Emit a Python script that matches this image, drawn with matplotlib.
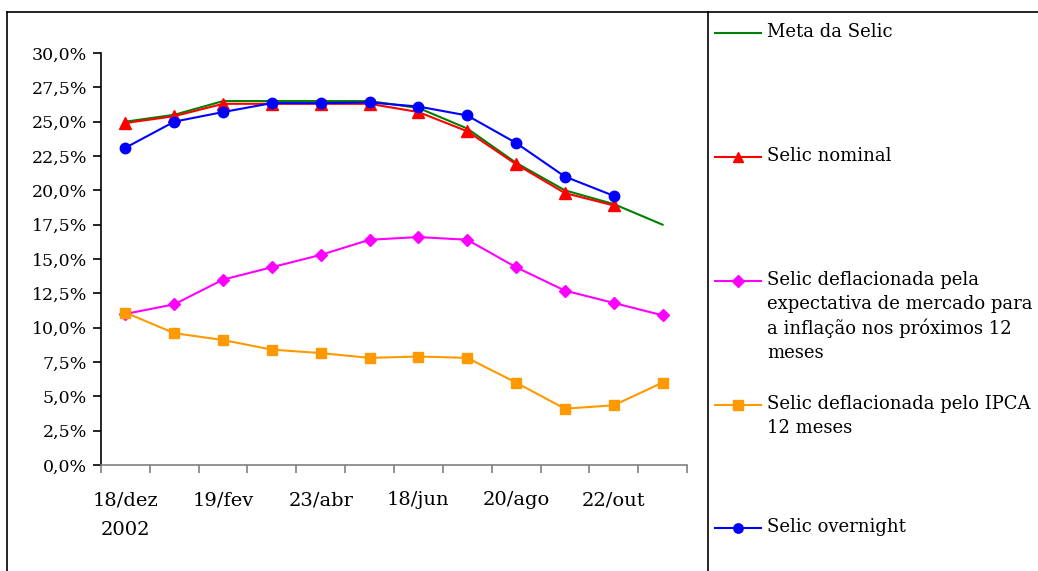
import matplotlib
matplotlib.use('Agg')
import matplotlib.pyplot as plt
from matplotlib.lines import Line2D
from matplotlib.ticker import FuncFormatter, FixedLocator

plt.rcParams['font.family'] = ['DejaVu Serif']

# datas das reuniões do Copom (dez/2002 a nov/2003)
datas = ['18/dez\n2002', '22/jan', '19/fev', '19/mar', '23/abr', '21/mai',
         '18/jun', '23/jul', '20/ago', '17/set', '22/out', '19/nov']

meta_selic = [25.0, 25.5, 26.5, 26.5, 26.5, 26.5, 26.0, 24.5, 22.0, 20.0, 19.0, 17.5]
selic_nominal = [24.9, 25.4, 26.3, 26.3, 26.3, 26.3, 25.7, 24.3, 21.9, 19.8, 18.9]
selic_expect = [11.0, 11.7, 13.5, 14.4, 15.3, 16.4, 16.6, 16.4, 14.4, 12.7, 11.8, 10.9]
selic_ipca = [11.1, 9.6, 9.1, 8.4, 8.15, 7.8, 7.9, 7.8, 6.0, 4.1, 4.35, 6.0]
selic_over = [23.1, 25.0, 25.7, 26.35, 26.35, 26.4, 26.1, 25.45, 23.45, 21.0, 19.6]

legendas = ['Meta da Selic',
            'Selic nominal',
            'Selic deflacionada pela\nexpectativa de mercado para\na inflação nos próximos 12\nmeses',
            'Selic deflacionada pelo IPCA\n12 meses',
            'Selic overnight']

W, H = 1038, 571
fig = plt.figure(figsize=(W / 100, H / 100), dpi=100)
ax = fig.add_axes([101 / W, 1 - 465 / H, 586 / W, 412 / H])

series = [
    (meta_selic, '#008000', None, 0),
    (selic_nominal, '#FF0000', '^', 8.5),
    (selic_expect, '#FF00FF', 'D', 6.5),
    (selic_ipca, '#FF9900', 's', 7.5),
    (selic_over, '#0000FF', 'o', 7.5),
]

x = list(range(len(datas)))
for vals, cor, mk, ms in series:
    ax.plot(x[:len(vals)], vals, color=cor, lw=1.5, marker=mk, ms=ms,
            markeredgecolor=cor, markerfacecolor=cor, clip_on=False)

ax.set_xlim(-0.5, len(datas) - 0.5)
ax.set_ylim(0, 30)
ax.set_yticks([i * 2.5 for i in range(13)])
ax.yaxis.set_major_formatter(FuncFormatter(lambda v, p: f'{v:.1f}%'.replace('.', ',')))

# rótulos a cada duas datas, marcas entre as categorias
ax.set_xticks(x[::2])
ax.set_xticklabels(datas[::2], linespacing=1.8)
ax.xaxis.set_minor_locator(FixedLocator([i - 0.5 for i in range(len(datas) + 1)]))
ax.tick_params(axis='x', which='major', length=0, pad=19, labelsize=14)
ax.tick_params(axis='x', which='minor', length=6, width=1.2, color='#808080')
ax.tick_params(axis='y', length=6, width=1.2, labelsize=12.5, pad=4)

for s in ['top', 'right']:
    ax.spines[s].set_visible(False)
ax.spines['left'].set_linewidth(1.2)
ax.spines['bottom'].set_linewidth(1.2)
ax.spines['bottom'].set_color('#808080')

# moldura e divisória
def px_line(xs, ys):
    fig.add_artist(Line2D([v / W for v in xs], [1 - v / H for v in ys],
                          color='black', lw=1.2, transform=fig.transFigure))

px_line([7, 7], [12, 575])
px_line([7, 1040], [12, 12])
px_line([708, 708], [12, 575])

# legenda manual (à direita)
ys_leg = [33, 157, 281, 405, 528]
for (vals, cor, mk, ms), rot, yp in zip(series, legendas, ys_leg):
    fig.add_artist(Line2D([715 / W, 761 / W], [1 - yp / H] * 2, color=cor, lw=1.5,
                          transform=fig.transFigure))
    if mk:
        fig.add_artist(Line2D([738 / W], [1 - yp / H], color=cor, marker=mk,
                              ms=ms * 0.9, transform=fig.transFigure))
    fig.text(767 / W, 1 - (yp - 10) / H, rot, fontsize=13, va='top',
             ha='left', linespacing=1.4)

fig.savefig('out.png', dpi=100)
